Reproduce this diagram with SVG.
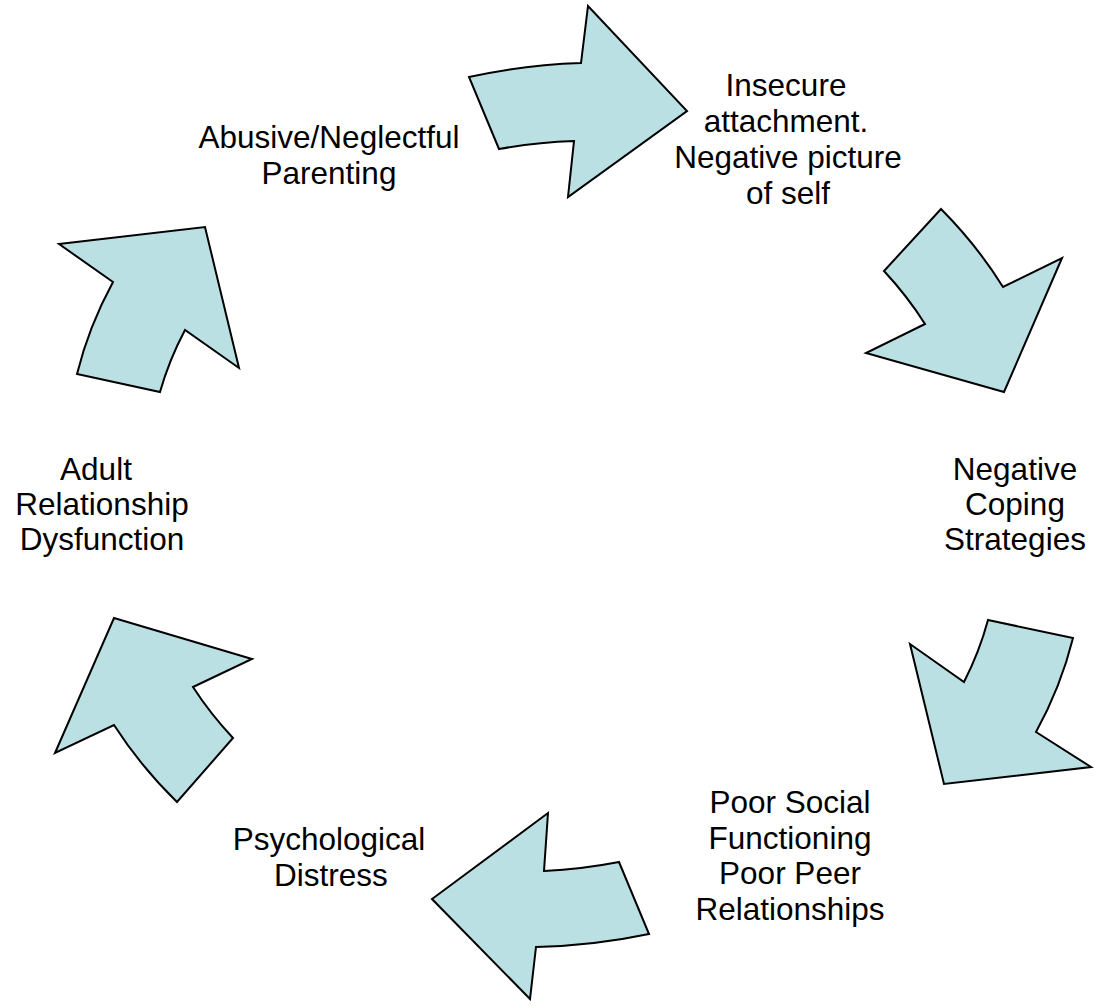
<svg xmlns="http://www.w3.org/2000/svg" width="1095" height="1006" viewBox="0 0 1095 1006">
<style>
.arrow{fill:#BBE0E3;stroke:#000;stroke-width:2;stroke-linejoin:miter}
.lbl{font-family:"Liberation Sans",Arial,sans-serif;font-size:31.5px;fill:#000;text-anchor:middle}
</style>
<rect width="1095" height="1006" fill="#fff"/>
<g id="connectors">
<path class="arrow" d="M469,77 A520,437 0 0 1 581,63 L588,6 L687,111 L568,197 L574,141 A435,361 0 0 0 499,149 Z"/>
<path class="arrow" d="M941,209 A520,437 0 0 1 1003,287 L1062,258 L1004,392 L866,353 L925,324 A435,361 0 0 0 884,271 Z"/>
<path class="arrow" d="M988,620 L1073,638 A520,437 0 0 1 1036,732 L1091,767 L944,784 L910,644 L964,682 A435,361 0 0 0 988,620 Z"/>
<path class="arrow" d="M548,813 L544,871 A435,361 0 0 0 619,862 L649,934 A520,437 0 0 1 536,947 L530,999 L432,899 Z"/>
<path class="arrow" d="M114,618 L252,659 L193,687 A435,361 0 0 0 233,738 L177,802 A520,437 0 0 1 114,725 L55,753 Z"/>
<path class="arrow" d="M59,244 L205,227 L239,368 L185,330 A435,361 0 0 0 160,392 L77,374 A520,437 0 0 1 113,282 Z"/>
</g>
<g id="node-parenting">
<text class="lbl" x="329" y="148">Abusive/Neglectful</text>
<text class="lbl" x="329" y="184">Parenting</text>
</g>
<g id="node-attachment">
<text class="lbl" x="786" y="96">Insecure</text>
<text class="lbl" x="786" y="132">attachment.</text>
<text class="lbl" x="788" y="168">Negative picture</text>
<text class="lbl" x="788" y="204">of self</text>
</g>
<g id="node-coping">
<text class="lbl" x="1015" y="480">Negative</text>
<text class="lbl" x="1015" y="515">Coping</text>
<text class="lbl" x="1015" y="550">Strategies</text>
</g>
<g id="node-social">
<text class="lbl" x="790" y="813">Poor Social</text>
<text class="lbl" x="790" y="849">Functioning</text>
<text class="lbl" x="790" y="884">Poor Peer</text>
<text class="lbl" x="790" y="920">Relationships</text>
</g>
<g id="node-distress">
<text class="lbl" x="329" y="850">Psychological</text>
<text class="lbl" x="331" y="886">Distress</text>
</g>
<g id="node-adult">
<text class="lbl" x="96" y="480">Adult</text>
<text class="lbl" x="102" y="515">Relationship</text>
<text class="lbl" x="102" y="550">Dysfunction</text>
</g>
</svg>
